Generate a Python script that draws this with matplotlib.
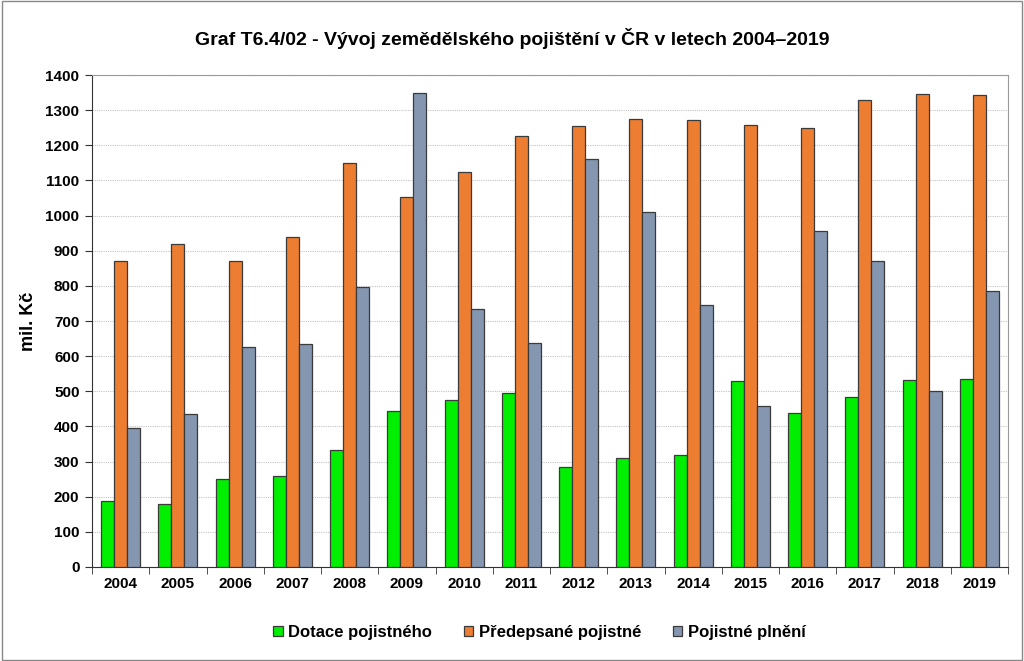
import matplotlib.pyplot as plt
import numpy as np

plt.rcParams["font.family"] = ["Liberation Sans", "DejaVu Sans"]

years = [str(y) for y in range(2004, 2020)]
dotace = [188, 178, 250, 260, 332, 444, 475, 496, 284, 311, 319, 530, 437, 484, 532, 536]
predepsane = [870, 920, 870, 940, 1150, 1052, 1124, 1227, 1255, 1274, 1272, 1259, 1249, 1328, 1347, 1343]
plneni = [395, 436, 627, 634, 797, 1349, 734, 638, 1160, 1010, 745, 457, 956, 870, 501, 786]

series = [
    ("Dotace pojistného", dotace, "#00ee00"),
    ("Předepsané pojistné", predepsane, "#ed7d31"),
    ("Pojistné plnění", plneni, "#8496b0"),
]

fig = plt.figure(figsize=(10.24, 6.61), dpi=100)
ax = fig.add_axes([92 / 1024, 1 - 567 / 661, 916 / 1024, 492 / 661])

x = np.arange(len(years))
w = 0.227
for i, (name, vals, col) in enumerate(series):
    ax.bar(x + (i - 1) * w, vals, w, color=col, edgecolor="#3a3a3a",
           linewidth=0.9, label=name, zorder=3)

ax.set_xlim(-0.5, len(years) - 0.5)
ax.set_ylim(0, 1400)
ax.set_yticks(range(0, 1401, 100))
ax.yaxis.grid(True, color="#c4c4c4", linestyle=(0, (1, 1)), linewidth=0.8, zorder=0)

ax.set_xticks(x)
ax.set_xticklabels(years, fontsize=11, fontweight="bold")
ax.tick_params(axis="x", length=0, pad=7)
ax.set_xticks(np.arange(-0.5, len(years)), minor=True)
ax.tick_params(axis="x", which="minor", length=5, direction="out", color="#333333")
ax.tick_params(axis="y", labelsize=11, length=5, direction="out", color="#333333", pad=4)
for lab in ax.get_yticklabels():
    lab.set_fontweight("bold")

ax.spines["left"].set_color("#333333")
ax.spines["bottom"].set_color("#333333")
ax.spines["top"].set_color("#999999")
ax.spines["right"].set_color("#999999")

ax.set_ylabel("mil. Kč", fontsize=13, fontweight="bold", labelpad=6)

fig.suptitle("Graf T6.4/02 - Vývoj zemědělského pojištění v ČR v letech 2004–2019",
             fontsize=14, fontweight="bold", y=0.957)

fig.legend(loc="center", bbox_to_anchor=(0.527, 0.043), ncol=3, frameon=False,
           prop={"weight": "bold", "size": 12}, handlelength=0.55,
           handleheight=0.55, columnspacing=1.9, handletextpad=0.35)

border = plt.Rectangle((0.002, 0.002), 0.996, 0.996, transform=fig.transFigure,
                       fill=False, edgecolor="#888888", linewidth=1)
fig.patches.append(border)

fig.savefig("out.png", dpi=100)
